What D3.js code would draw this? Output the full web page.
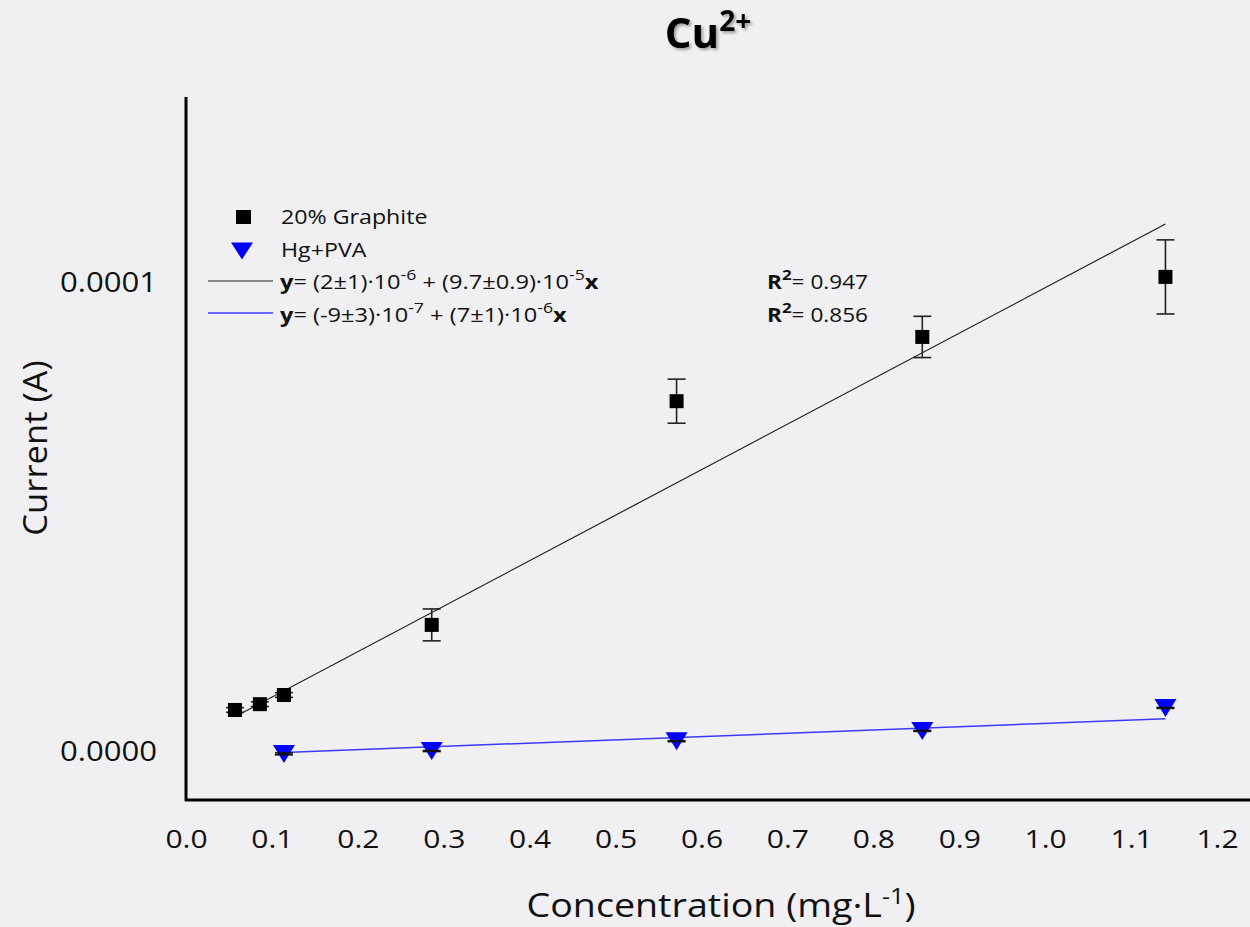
<!DOCTYPE html>
<html>
<head>
<meta charset="utf-8">
<script src="https://cdn.jsdelivr.net/npm/d3@7/dist/d3.min.js"></script>
<style>
  html, body { margin: 0; padding: 0; background: #f0eff2; }
  svg { display: block; font-family: "Open Sans", sans-serif; }
</style>
</head>
<body>
<script>
// Calibration data for Cu2+ on two electrodes
const concentration = [0.057, 0.086, 0.114, 0.286, 0.571, 0.857, 1.14];
const graphiteCurrent = [8.96e-6, 1.02e-5, 1.215e-5, 2.71e-5, 7.48e-5, 8.85e-5, 1.013e-4];
const graphiteError = [5e-7, 5e-7, 5e-7, 3.4e-6, 4.7e-6, 4.4e-6, 7.9e-6];

const hgConcentration = [0.114, 0.286, 0.571, 0.857, 1.14];
const hgCurrent = [-4e-7, 2e-7, 2.3e-6, 4.5e-6, 9.4e-6];
const hgError = [2e-7, 1e-7, 1e-7, 1e-7, 1e-7];

// Linear fits: intercept, slope
const graphiteFit = { intercept: 2e-6, slope: 9.7e-5, from: 0.057, to: 1.14 };
const hgFit = { intercept: -9e-7, slope: 7e-6, from: 0.114, to: 1.14 };

const xTicks = [0, 0.1, 0.2, 0.3, 0.4, 0.5, 0.6, 0.7, 0.8, 0.9, 1.0, 1.1, 1.2];
const yTicks = [0, 1e-4];

const W = 1250, H = 927;
const svg = d3.select("body").append("svg").attr("width", W).attr("height", H);

svg.append("rect").attr("width", W).attr("height", H).attr("fill", "#f0eff2");

const defs = svg.append("defs");
const shadow = defs.append("filter").attr("id", "titleShadow")
  .attr("x", "-20%").attr("y", "-20%").attr("width", "140%").attr("height", "140%");
shadow.append("feDropShadow").attr("dx", 2).attr("dy", 2).attr("stdDeviation", 1.5)
  .attr("flood-color", "#000").attr("flood-opacity", 0.35);

// Widen text horizontally around its anchor point
function stretch(sel, sx) {
  sel.each(function () {
    const t = d3.select(this);
    const tx = +t.attr("x") || 0, ty = +t.attr("y") || 0;
    t.attr("x", 0).attr("y", 0)
      .attr("transform", `translate(${tx},${ty}) scale(${sx},1)`);
  });
}

const x = d3.scaleLinear().domain([0, 1.2]).range([186, 1217]);
const y = d3.scaleLinear().domain([0, 1e-4]).range([752, 283]);

// Title
svg.append("text")
  .attr("x", 708).attr("y", 48)
  .attr("text-anchor", "middle")
  .attr("font-size", 42).attr("font-weight", 700)
  .attr("filter", "url(#titleShadow)")
  .call(t => {
    t.append("tspan").text("Cu");
    t.append("tspan").attr("font-size", 28).attr("dy", -17).text("2+");
  });

// Axes (labels only, no tick marks)
const xAxis = d3.axisBottom(x).tickValues(xTicks).tickFormat(d3.format(".1f"))
  .tickSize(0).tickPadding(30);
const gx = svg.append("g").attr("transform", "translate(0,800)").call(xAxis);
gx.select(".domain").remove();
gx.selectAll("text").attr("font-size", 25).attr("font-family", "Open Sans, sans-serif").attr("fill", "#111")
  .call(stretch, 1.2);

const yAxis = d3.axisLeft(y).tickValues(yTicks).tickFormat(d3.format(".4f"))
  .tickSize(0).tickPadding(29);
const gy = svg.append("g").attr("transform", "translate(186,0)").call(yAxis);
gy.select(".domain").remove();
gy.selectAll("text").attr("font-size", 28).attr("font-family", "Open Sans, sans-serif").attr("fill", "#111")
  .call(stretch, 1.11);

// Axis lines
svg.append("line").attr("x1", 186).attr("x2", 186).attr("y1", 97).attr("y2", 801)
  .attr("stroke", "#000").attr("stroke-width", 3);
svg.append("line").attr("x1", 185).attr("x2", 1250).attr("y1", 800).attr("y2", 800)
  .attr("stroke", "#000").attr("stroke-width", 3);

// Axis titles
svg.append("text")
  .attr("transform", "translate(47,448) rotate(-90) scale(1.08,1)")
  .attr("text-anchor", "middle")
  .attr("font-size", 32).attr("fill", "#111")
  .text("Current (A)");

svg.append("text")
  .attr("x", 721).attr("y", 917)
  .attr("text-anchor", "middle")
  .attr("font-size", 33).attr("fill", "#111")
  .call(t => {
    t.append("tspan").text("Concentration (mg·L");
    t.append("tspan").attr("font-size", 22).attr("dy", -13).text("-1");
    t.append("tspan").attr("dy", 13).text(")");
  })
  .call(stretch, 1.14);

// Fit lines
function fitLine(f) {
  return [f.from, f.to].map(c => [x(c), y(f.intercept + f.slope * c)]);
}
svg.append("path").attr("d", d3.line()(fitLine(graphiteFit)))
  .attr("stroke", "#222").attr("stroke-width", 1.2).attr("fill", "none");
svg.append("path").attr("d", d3.line()(fitLine(hgFit)))
  .attr("stroke", "#3a3aff").attr("stroke-width", 1.5).attr("fill", "none");

// Error bars
function errorBars(xs, ys, es, color) {
  const g = svg.append("g").attr("stroke", color).attr("stroke-width", 1.6);
  xs.forEach((c, i) => {
    const cx = x(c), top = y(ys[i] + es[i]), bot = y(ys[i] - es[i]);
    g.append("line").attr("x1", cx).attr("x2", cx).attr("y1", top).attr("y2", bot);
    g.append("line").attr("x1", cx - 9).attr("x2", cx + 9).attr("y1", top).attr("y2", top);
    g.append("line").attr("x1", cx - 9).attr("x2", cx + 9).attr("y1", bot).attr("y2", bot);
  });
}

// Graphite squares
errorBars(concentration, graphiteCurrent, graphiteError, "#222");
svg.append("g").selectAll("rect").data(concentration).join("rect")
  .attr("x", d => x(d) - 7)
  .attr("y", (d, i) => y(graphiteCurrent[i]) - 7)
  .attr("width", 14).attr("height", 14)
  .attr("fill", "#000");

// Hg+PVA triangles
function downTriangle(cx, cy, hw, hh) {
  const p = d3.path();
  p.moveTo(cx - hw, cy - hh);
  p.lineTo(cx + hw, cy - hh);
  p.lineTo(cx, cy + hh);
  p.closePath();
  return p.toString();
}
svg.append("g").selectAll("path").data(hgConcentration).join("path")
  .attr("d", (d, i) => downTriangle(x(d), y(hgCurrent[i]), 11, 9))
  .attr("fill", "#0000ff");
errorBars(hgConcentration, hgCurrent, hgError, "#111");

// Legend
const legend = svg.append("g").attr("font-size", 20).attr("fill", "#111");
legend.append("rect").attr("x", 236).attr("y", 210).attr("width", 15).attr("height", 14).attr("fill", "#000");
legend.append("text").attr("x", 281).attr("y", 224).text("20% Graphite").call(stretch, 1.16);
legend.append("path").attr("d", downTriangle(242, 251, 11, 8.5)).attr("fill", "#0000ff");
legend.append("text").attr("x", 281).attr("y", 257).text("Hg+PVA").call(stretch, 1.16);

legend.append("line").attr("x1", 208).attr("x2", 273).attr("y1", 281).attr("y2", 281)
  .attr("stroke", "#222").attr("stroke-width", 1.2);
legend.append("line").attr("x1", 208).attr("x2", 273).attr("y1", 313).attr("y2", 313)
  .attr("stroke", "#3a3aff").attr("stroke-width", 1.5);

function equation(yPos, parts) {
  const t = legend.append("text").attr("x", 280).attr("y", yPos);
  parts.forEach(p => {
    const s = t.append("tspan").text(p.t);
    if (p.b) s.attr("font-weight", 700);
    if (p.sup) s.attr("font-size", 15).attr("dy", -9);
    if (p.down) s.attr("dy", 9);
  });
  t.call(stretch, 1.18);
}
equation(289, [
  { t: "y", b: true }, { t: "= (2±1)·10" }, { t: "-6", sup: true },
  { t: " + (9.7±0.9)·10", down: true }, { t: "-5", sup: true }, { t: "x", b: true, down: true }
]);
equation(322, [
  { t: "y", b: true }, { t: "= (-9±3)·10" }, { t: "-7", sup: true },
  { t: " + (7±1)·10", down: true }, { t: "-6", sup: true }, { t: "x", b: true, down: true }
]);

function r2(yPos, val) {
  const t = legend.append("text").attr("x", 767).attr("y", yPos);
  t.append("tspan").attr("font-weight", 700).text("R");
  t.append("tspan").attr("font-weight", 700).attr("font-size", 15).attr("dy", -9).text("2");
  t.append("tspan").attr("dy", 9).text("= " + val);
  t.call(stretch, 1.13);
}
r2(289, "0.947");
r2(322, "0.856");
</script>
</body>
</html>
